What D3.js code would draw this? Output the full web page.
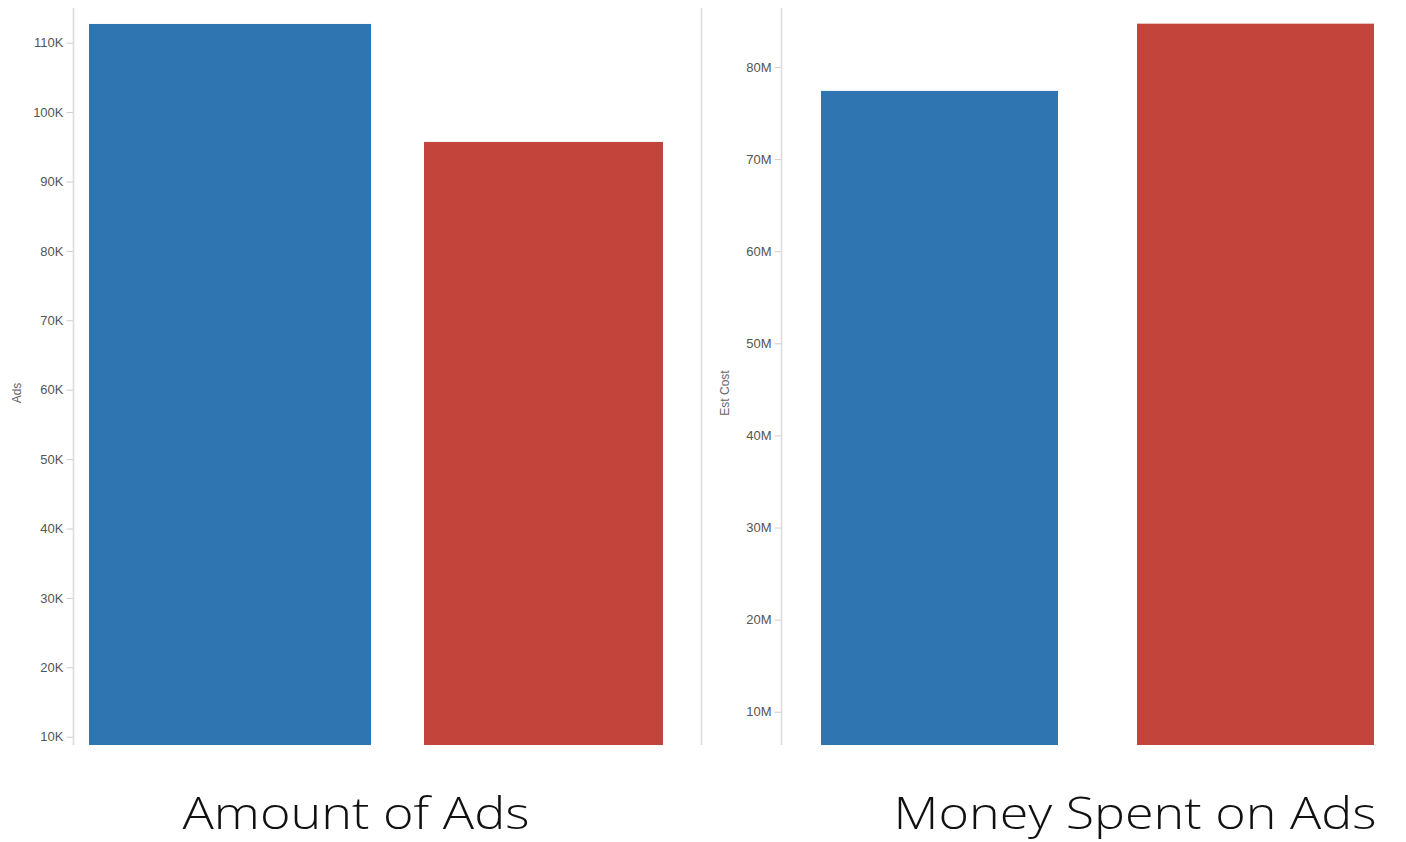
<!DOCTYPE html>
<html><head><meta charset="utf-8">
<script src="https://cdn.jsdelivr.net/npm/d3@7"></script>
<style>
body{margin:0;background:#fff;}
svg{display:block;}
.tick text{font-family:"Liberation Sans",Arial,sans-serif;font-size:13px;fill:#555;}
</style></head>
<body>
<script>
// ---- data ----
const categories = ["Group A", "Group B"];
const adsValues = [112700, 95700];
const costValues = [77400000, 84700000];
const adsTicks = [10000,20000,30000,40000,50000,60000,70000,80000,90000,100000,110000];
const costTicks = [10000000,20000000,30000000,40000000,50000000,60000000,70000000,80000000];
const colors = ["#2E75B1", "#C3443A"];

const W = 1406, H = 842;
const svg = d3.select("body").append("svg").attr("width", W).attr("height", H);

const plotTop = 8, plotBottom = 744;
const gridCol = "#dcdcdc";

function panel(opts) {
  const y = d3.scaleLinear().domain(opts.domain).range([plotBottom, plotTop]);
  const xPos = d3.scaleOrdinal().domain(categories).range(opts.xStarts);
  const xW = d3.scaleOrdinal().domain(categories).range(opts.widths);
  const color = d3.scaleOrdinal().domain(categories).range(colors);
  const g = svg.append("g");
  g.selectAll("rect.bar").data(categories.map((c, i) => ({c, v: opts.values[i]})))
    .join("rect").attr("class", "bar")
    .attr("x", d => xPos(d.c)).attr("width", d => xW(d.c))
    .attr("y", d => y(d.v)).attr("height", d => plotBottom - y(d.v) + 1)
    .attr("fill", d => color(d.c));
  const ax = g.append("g").attr("transform", `translate(${opts.axisX},0)`)
    .call(d3.axisLeft(y).tickValues(opts.ticks).tickFormat(opts.fmt).tickSize(7).tickPadding(3));
  ax.select(".domain").remove();
  ax.selectAll(".tick line").attr("stroke", "#cfcfcf").attr("stroke-width", 1);
  g.append("line").attr("x1", opts.axisX).attr("x2", opts.axisX).attr("y1", plotTop).attr("y2", plotBottom + 1)
    .attr("stroke", gridCol).attr("stroke-width", 1.6);
  g.append("text").text(opts.label)
    .attr("transform", `translate(${opts.labelX},${opts.labelY}) rotate(-90)`)
    .attr("text-anchor", "middle")
    .style("font-family", "'Liberation Sans',Arial,sans-serif").style("font-size", "12px").style("fill", "#666");
  g.append("text").text(opts.title)
    .attr("x", opts.titleX).attr("y", 829).attr("text-anchor", "middle")
    .attr("textLength", opts.titleLen).attr("lengthAdjust", "spacingAndGlyphs")
    .style("font-family", "'Open Sans',Lato,sans-serif").style("font-weight", "300")
    .style("font-size", "45px").style("fill", "#111");
}

// left panel
panel({
  domain: [8950, 115000],
  values: adsValues, ticks: adsTicks,
  fmt: d => (d / 1000) + "K",
  axisX: 73.5, xStarts: [89, 424], widths: [282, 239],
  label: "Ads", labelX: 21, labelY: 393,
  title: "Amount of Ads", titleX: 356, titleLen: 347
});

// divider
svg.append("line").attr("x1", 701.5).attr("x2", 701.5).attr("y1", plotTop).attr("y2", plotBottom + 1)
  .attr("stroke", gridCol).attr("stroke-width", 1.6);

// right panel
panel({
  domain: [6500000, 86400000],
  values: costValues, ticks: costTicks,
  fmt: d => (d / 1e6) + "M",
  axisX: 781.5, xStarts: [821, 1137], widths: [237, 237],
  label: "Est Cost", labelX: 729, labelY: 393,
  title: "Money Spent on Ads", titleX: 1135, titleLen: 483
});
</script>
</body></html>
